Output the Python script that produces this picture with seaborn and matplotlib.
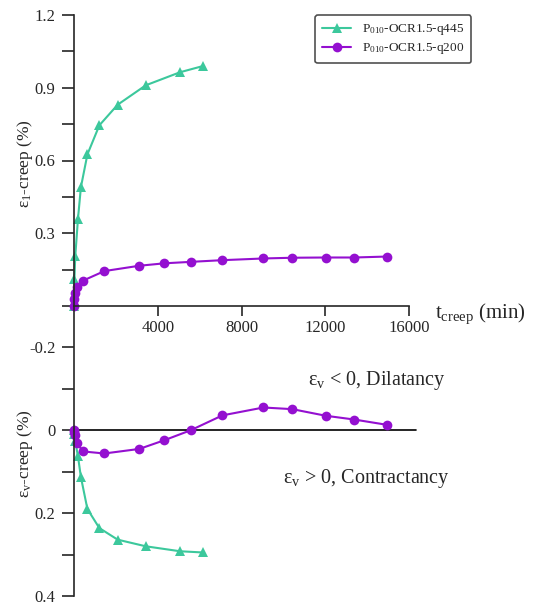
import matplotlib
matplotlib.use('Agg')
import matplotlib.pyplot as plt
import seaborn as sns
import pandas as pd

# creep time (min) and strains (%)
t_q445 = [0, 20, 60, 190, 330, 640, 1210, 2085, 3425, 5065, 6180]
e1_q445 = [0, 0.11, 0.205, 0.36, 0.49, 0.625, 0.745, 0.83, 0.91, 0.964, 0.99]
ev_q445 = [0, 0.01, 0.027, 0.063, 0.113, 0.19, 0.236, 0.264, 0.28, 0.292, 0.295]

t_q200 = [0, 20, 50, 150, 415, 1450, 3120, 4315, 5570, 7090, 9050, 10430, 12030, 13380, 14970]
e1_q200 = [0, 0.03, 0.055, 0.08, 0.104, 0.144, 0.166, 0.176, 0.182, 0.189, 0.196, 0.199, 0.2, 0.2, 0.204]
ev_q200 = [0, 0.004, 0.012, 0.03, 0.051, 0.056, 0.045, 0.024, 0.0, -0.036, -0.055, -0.051, -0.035, -0.026, -0.013]

labels = ['P$_{010}$-OCR1.5-q445', 'P$_{010}$-OCR1.5-q200']
colors = ['#3cc89c', '#9410d0']

sns.set_style('ticks')
plt.rcParams['font.family'] = ['Liberation Serif', 'DejaVu Serif']
plt.rcParams['mathtext.fontset'] = 'custom'
plt.rcParams['mathtext.rm'] = 'Liberation Serif'
plt.rcParams['mathtext.it'] = 'Liberation Serif:italic'
plt.rcParams['mathtext.bf'] = 'Liberation Serif:bold'

fig = plt.figure(figsize=(5.34, 6.07), dpi=100)
ax1 = fig.add_axes([74/534, 1-306/607, 335/534, 291/607])
ax2 = fig.add_axes([74/534, 1-596/607, 335/534, 290/607])

df_a = pd.DataFrame({'t': t_q445, 'e1': e1_q445, 'ev': ev_q445})
df_b = pd.DataFrame({'t': t_q200, 'e1': e1_q200, 'ev': ev_q200})

# top panel: axial creep strain
sns.lineplot(data=df_a, x='t', y='e1', ax=ax1, color=colors[0], marker='^',
             markersize=7, markeredgewidth=0, linewidth=1.5, label=labels[0], clip_on=False)
sns.lineplot(data=df_b, x='t', y='e1', ax=ax1, color=colors[1], marker='o',
             markersize=7, markeredgewidth=0, linewidth=1.5, label=labels[1], clip_on=False)

# bottom panel: volumetric creep strain (axis inverted)
sns.lineplot(data=df_a, x='t', y='ev', ax=ax2, color=colors[0], marker='^',
             markersize=7, markeredgewidth=0, linewidth=1.5, legend=False, clip_on=False)
sns.lineplot(data=df_b, x='t', y='ev', ax=ax2, color=colors[1], marker='o',
             markersize=7, markeredgewidth=0, linewidth=1.5, legend=False, clip_on=False)

for ax in (ax1, ax2):
    ax.set_xlim(0, 16000)
    ax.patch.set_alpha(0)
    ax.spines['top'].set_visible(False)
    ax.spines['right'].set_visible(False)
    ax.spines['left'].set_linewidth(1.2)
    ax.tick_params(axis='y', direction='out', length=8.5, width=1.2, labelsize=12, pad=5)
    ax.set_xlabel('')

ax1.set_ylim(0, 1.2)
ax1.set_yticks([0, 0.15, 0.3, 0.45, 0.6, 0.75, 0.9, 1.05, 1.2])
ax1.set_yticklabels(['', '', '0.3', '', '0.6', '', '0.9', '', '1.2'])
ax1.set_xticks([4000, 8000, 12000, 16000])
ax1.set_xticklabels(['4000', '8000', '12000', '16000'])
ax1.spines['bottom'].set_linewidth(1.2)
ax1.tick_params(axis='x', direction='out', length=7, width=1.2, labelsize=12, pad=3)
ax1.set_ylabel('ε$_1$-creep (%)', fontsize=12.5)
ax1.yaxis.set_label_coords(-0.115, 0.49)
ax1.text(1.078, -0.028, 't$_\\mathrm{creep}$ (min)', transform=ax1.transAxes,
         fontsize=15, ha='left', va='center')

ax2.set_ylim(0.4, -0.3)
ax2.set_yticks([-0.2, -0.1, 0, 0.1, 0.2, 0.3, 0.4])
ax2.set_yticklabels(['-0.2', '', '0', '', '0.2', '', '0.4'])
ax2.spines['bottom'].set_visible(False)
ax2.set_xticks([])
ax2.axhline(0, 0, 1.02, color='black', linewidth=1.2, clip_on=False, zorder=1)
ax2.set_ylabel('ε$_\\mathrm{v}$-creep (%)', fontsize=12.5)
ax2.yaxis.set_label_coords(-0.115, 0.49)
ax2.text(0.70, 0.743, 'ε$_\\mathrm{v}$ < 0, Dilatancy', transform=ax2.transAxes,
         fontsize=14.5, ha='left', va='center')
ax2.text(0.625, 0.405, 'ε$_\\mathrm{v}$ > 0, Contractancy', transform=ax2.transAxes,
         fontsize=14.5, ha='left', va='center')

leg = ax1.legend(loc='upper left', bbox_to_anchor=(315/534, 1-15/607),
                 bbox_transform=fig.transFigure, borderaxespad=0, fontsize=9.5,
                 frameon=True, fancybox=True, framealpha=1, handlelength=2.2,
                 borderpad=0.55, labelspacing=0.3)
leg.get_frame().set_edgecolor('#505050')
leg.get_frame().set_linewidth(1.2)

fig.savefig('out.png', dpi=100)
